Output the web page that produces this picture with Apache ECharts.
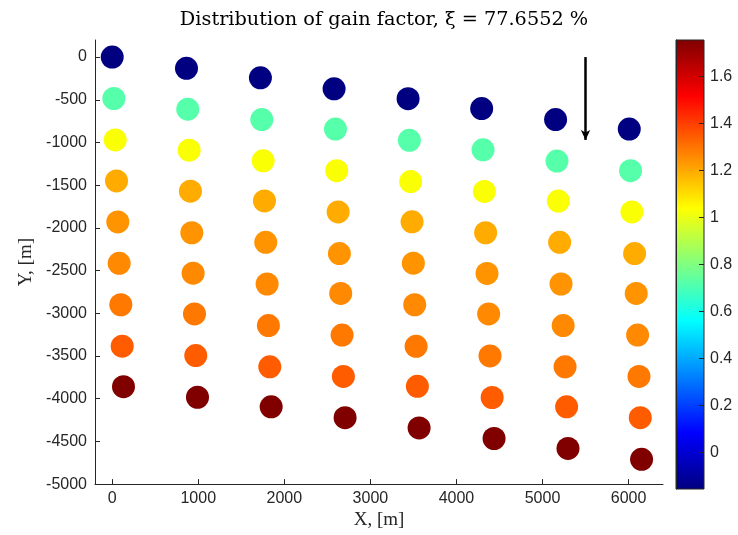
<!DOCTYPE html>
<html><head><meta charset="utf-8">
<script src="https://cdn.jsdelivr.net/npm/echarts@6/dist/echarts.min.js"></script>
<style>html,body{margin:0;padding:0;background:#fff}#c{width:738px;height:535px}</style>
</head><body><div id="c"></div>
<script>
// Point positions, one array per column (9 rows each)
const x1 = [0, 19, 35, 50, 65, 81, 100, 116, 131];
const y1 = [0, -485, -970, -1450, -1930, -2415, -2900, -3385, -3860];
const x2 = [863, 878, 894, 909, 925, 940, 956, 971, 991];
const y2 = [-131, -610, -1090, -1570, -2057, -2530, -3008, -3495, -3983];
const x3 = [1722, 1738, 1754, 1769, 1784, 1800, 1815, 1831, 1847];
const y3 = [-243, -731, -1214, -1685, -2169, -2657, -3144, -3627, -4095];
const x4 = [2578, 2594, 2609, 2625, 2640, 2655, 2671, 2686, 2706];
const y4 = [-371, -843, -1330, -1813, -2300, -2768, -3255, -3739, -4223];
const x5 = [3438, 3453, 3468, 3484, 3499, 3515, 3531, 3546, 3566];
const y5 = [-487, -974, -1457, -1929, -2413, -2900, -3387, -3855, -4342];
const x6 = [4293, 4309, 4324, 4339, 4355, 4374, 4390, 4415, 4437];
const y6 = [-603, -1086, -1573, -2057, -2533, -3008, -3499, -3986, -4466];
const x7 = [5152, 5168, 5184, 5199, 5215, 5240, 5262, 5280, 5296];
const y7 = [-731, -1218, -1686, -2169, -2657, -3144, -3627, -4095, -4582];
const x8 = [6008, 6023, 6039, 6070, 6089, 6105, 6121, 6136, 6151];
const y8 = [-843, -1330, -1813, -2300, -2768, -3255, -3739, -4223, -4710];
// Gain factor by row (same for every column)
const rowGain = [-0.157, 0.72, 1.03, 1.197, 1.239, 1.261, 1.291, 1.344, 1.755];
// Colour bar
const gainMin = -0.157, gainMax = 1.755;
const cbTicks = [0, 0.2, 0.4, 0.6, 0.8, 1, 1.2, 1.4, 1.6];
const xTicks = [0, 1000, 2000, 3000, 4000, 5000, 6000];
const yTicks = [-5000, -4500, -4000, -3500, -3000, -2500, -2000, -1500, -1000, -500, 0];
// Arrow annotation: x, yStart, yEnd
const arrow = [5500, 0, -970];
const jet = ['#000080', '#0000ff', '#0080ff', '#00ffff', '#80ff80', '#ffff00', '#ff8000', '#ff0000', '#800000'];

const cols = [[x1, y1], [x2, y2], [x3, y3], [x4, y4], [x5, y5], [x6, y6], [x7, y7], [x8, y8]];
const data = [];
cols.forEach(([xs, ys]) => xs.forEach((x, i) => data.push([x, ys[i], rowGain[i]])));

const axisColor = '#262626';
const plain = v => String(Math.round(v * 1000) / 1000);
const tickFont = { fontFamily: 'Liberation Sans', fontSize: 16, color: axisColor, formatter: plain };
const chart = echarts.init(document.getElementById('c'));
chart.setOption({
  animation: false,
  backgroundColor: '#fff',
  title: {
    text: 'Distribution of gain factor, ξ = 77.6552 %',
    left: 379, textAlign: 'center', top: 5,
    textStyle: { fontFamily: 'DejaVu Serif', fontSize: 19.3, fontWeight: 'normal', color: '#000' }
  },
  grid: [
    { left: 95, right: 75, top: 40, bottom: 47 },
    { left: 676, width: 28, top: 40, height: 449, show: true, borderColor: axisColor, borderWidth: 1, backgroundColor: 'transparent', z: 10 }
  ],
  xAxis: [
    {
      type: 'value', gridIndex: 0, min: -200, max: 6400,
      name: 'X, [m]', nameLocation: 'middle', nameGap: 24,
      nameTextStyle: { fontFamily: 'Liberation Serif', fontSize: 19, color: axisColor },
      axisLine: { onZero: false, lineStyle: { color: axisColor, width: 1 } },
      axisTick: { show: true, inside: true, length: 5, customValues: xTicks, lineStyle: { color: axisColor } },
      axisLabel: Object.assign({ customValues: xTicks, margin: 6 }, tickFont),
      splitLine: { show: false }
    },
    { type: 'value', gridIndex: 1, min: 0, max: 1, show: false }
  ],
  yAxis: [
    {
      type: 'value', gridIndex: 0, min: -5000, max: 200,
      name: 'Y, [m]', nameLocation: 'middle', nameGap: 52,
      nameTextStyle: { fontFamily: 'Liberation Serif', fontSize: 19, color: axisColor },
      axisLine: { onZero: false, lineStyle: { color: axisColor, width: 1 } },
      axisTick: { show: true, inside: true, length: 5, customValues: yTicks, lineStyle: { color: axisColor } },
      axisLabel: Object.assign({ customValues: yTicks, margin: 8 }, tickFont),
      splitLine: { show: false }
    },
    {
      type: 'value', gridIndex: 1, min: gainMin, max: gainMax, position: 'right', z: 10,
      axisLine: { show: true, lineStyle: { color: axisColor, width: 1 } },
      axisTick: { show: false },
      axisLabel: Object.assign({ customValues: cbTicks, margin: 6 }, tickFont),
      splitLine: { show: false }
    }
  ],
  visualMap: {
    type: 'continuous', min: gainMin, max: gainMax, dimension: 2, seriesIndex: 0,
    inRange: { color: jet }, show: false
  },
  series: [{
    type: 'scatter', xAxisIndex: 0, yAxisIndex: 0,
    symbolSize: 23, data: data,
    itemStyle: { opacity: 1 },
    markLine: {
      silent: true, symbol: ['none', 'arrow'], symbolSize: [7, 10],
      label: { show: false },
      lineStyle: { color: '#000', width: 2.5, type: 'solid' },
      data: [[{ coord: [arrow[0], arrow[1]] }, { coord: [arrow[0], arrow[2]] }]]
    }
  }, {
    type: 'custom', xAxisIndex: 1, yAxisIndex: 1, z: 1, silent: true,
    data: [[gainMin, gainMax]],
    renderItem: (params, api) => {
      const p0 = api.coord([0, api.value(0)]);
      const p1 = api.coord([1, api.value(1)]);
      return {
        type: 'rect',
        shape: { x: p0[0], y: p1[1], width: p1[0] - p0[0], height: p0[1] - p1[1] },
        style: {
          fill: new echarts.graphic.LinearGradient(0, 1, 0, 0,
            jet.map((c, i) => ({ offset: i / (jet.length - 1), color: c })))
        }
      };
    }
  }, {
    type: 'custom', xAxisIndex: 1, yAxisIndex: 1, z: 20, silent: true,
    data: cbTicks.map(v => [v]),
    renderItem: (params, api) => {
      const p = api.coord([1, api.value(0)]);
      return {
        type: 'line',
        shape: { x1: p[0] - 5, y1: Math.round(p[1]) + 0.5, x2: p[0], y2: Math.round(p[1]) + 0.5 },
        style: { stroke: axisColor, lineWidth: 1 }
      };
    }
  }]
});
</script></body></html>
